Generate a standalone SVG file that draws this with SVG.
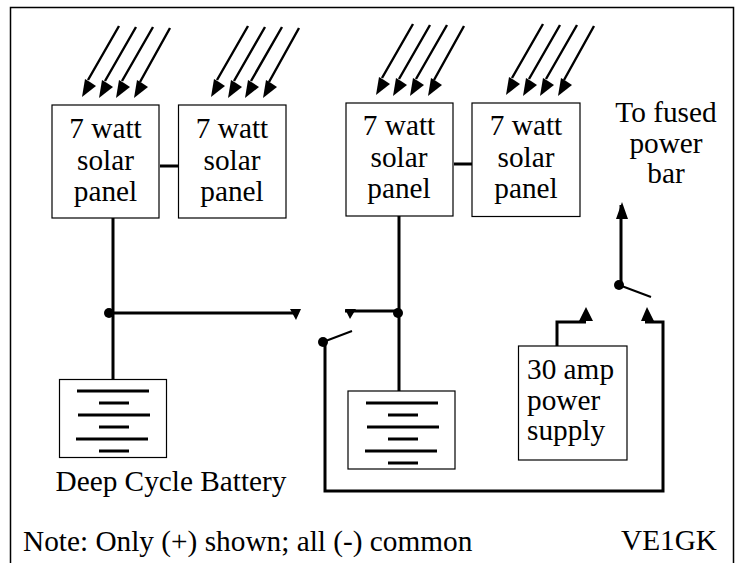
<svg xmlns="http://www.w3.org/2000/svg" width="740" height="563" viewBox="0 0 740 563">
<defs>
<path id="h" d="M0 0L3 -18L8 -15L14 -11Z"/>
<g id="rays">
<path d="M37 -71L6 -17M54 -70L23 -16M71 -70L40 -16M88 -69L58 -15" fill="none" stroke="#000" stroke-width="2.400"/>
<use href="#h"/><use href="#h" x="17" y="1"/><use href="#h" x="34" y="1"/><use href="#h" x="52" y="1"/>
</g>
</defs>
<style>
text{font-family:"Liberation Serif","Times New Roman",serif;font-size:29.300px;fill:#000;text-anchor:middle}
.b{fill:#fff;stroke:#000;stroke-width:1.200}
.w{fill:none;stroke:#000;stroke-width:3}
.c{fill:#000}
.s{text-anchor:start}
</style>
<rect x="0" y="0" width="740" height="563" fill="#fff"/>
<path d="M10.500 563V7.500H733.500V563" fill="none" stroke="#000" stroke-width="1.500"/>
<use id="rays1" href="#rays" x="82" y="97"/>
<use id="rays2" href="#rays" x="211" y="97"/>
<use id="rays3" href="#rays" x="376" y="95"/>
<use id="rays4" href="#rays" x="506" y="95"/>
<g id="connectors">
<path class="w" d="M113 218V380M109 313H295M160 166H179M454 164H472M399 216V392M345 311H399M325 342V491H663V322H645M557 349V322H586M621 285V205"/>
<path d="M323 342L352 331M619 285L651 297" fill="none" stroke="#000" stroke-width="2"/>
<circle class="c" cx="109" cy="313" r="5"/><circle class="c" cx="398" cy="313" r="5"/><circle class="c" cx="323" cy="342" r="5"/><circle class="c" cx="619" cy="285" r="5"/>
<path class="c" d="M290 309H301L296 320ZM345 309H356L350 319ZM579 321H593L586 307ZM641 321H654L647 307ZM616 219H628L622 202Z"/>
</g>
<g id="panel1"><rect class="b" x="52" y="105" width="107" height="113"/><text x="105.500" y="138">7 watt</text><text x="105.500" y="170">solar</text><text x="105.500" y="201">panel</text></g>
<g id="panel2"><rect class="b" x="178.500" y="105" width="107.500" height="113"/><text x="232" y="138">7 watt</text><text x="232" y="170">solar</text><text x="232" y="201">panel</text></g>
<g id="panel3"><rect class="b" x="346" y="103" width="107" height="113"/><text x="399" y="135">7 watt</text><text x="399" y="167">solar</text><text x="399" y="198">panel</text></g>
<g id="panel4"><rect class="b" x="472" y="103" width="108" height="113.500"/><text x="526" y="135">7 watt</text><text x="526" y="167">solar</text><text x="526" y="198">panel</text></g>
<g id="battery1"><rect class="b" x="59.500" y="379.500" width="107" height="78"/><path class="w" d="M77 391H149M99 403H129M78 415H150M99 427H129M76 439H148M99 451H129"/></g>
<g id="battery2"><rect class="b" x="348" y="391" width="107" height="78"/><path class="w" d="M366 403H438M388 415H418M367 427H439M388 439H418M365 451H437M388 463H418"/></g>
<g id="psu"><rect class="b" x="518.500" y="346" width="108.500" height="114"/><text class="s" x="527" y="379">30 amp</text><text class="s" x="527" y="410">power</text><text class="s" x="527" y="440">supply</text></g>
<text x="171" y="491">Deep Cycle Battery</text>
<text x="666" y="122">To fused</text><text x="666" y="152.500">power</text><text x="666" y="183">bar</text>
<text class="s" x="23" y="551">Note: Only (+) shown; all (-) common</text>
<text x="669" y="550">VE1GK</text>
</svg>
